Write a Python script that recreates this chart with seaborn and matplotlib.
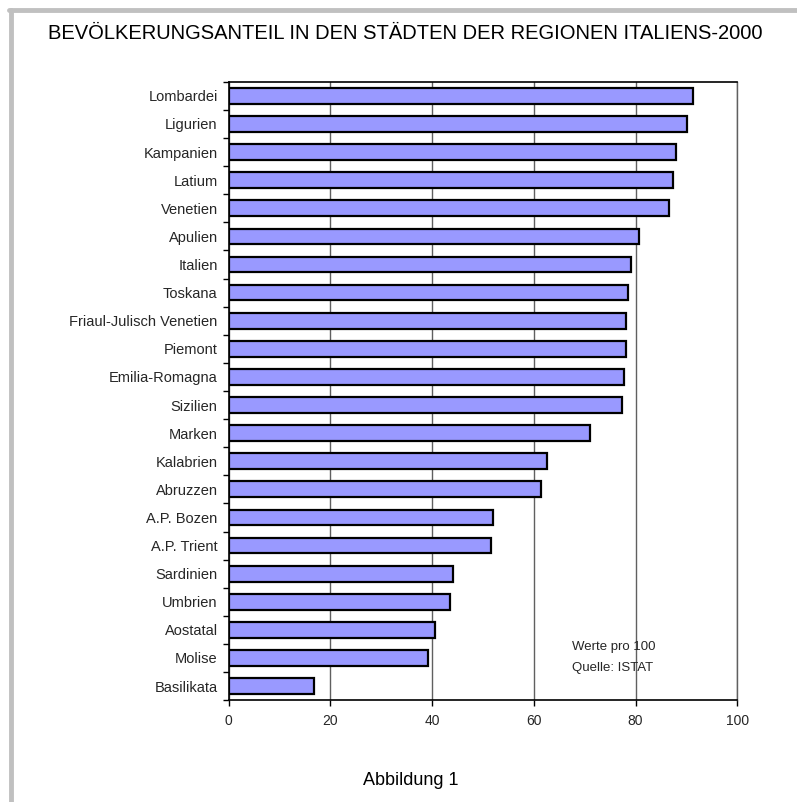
import matplotlib
matplotlib.use("Agg")
import matplotlib.pyplot as plt
from matplotlib.lines import Line2D
from matplotlib.ticker import FixedLocator
import seaborn as sns
import pandas as pd
import numpy as np

regionen = ["Lombardei", "Ligurien", "Kampanien", "Latium", "Venetien", "Apulien",
            "Italien", "Toskana", "Friaul-Julisch Venetien", "Piemont", "Emilia-Romagna",
            "Sizilien", "Marken", "Kalabrien", "Abruzzen", "A.P. Bozen", "A.P. Trient",
            "Sardinien", "Umbrien", "Aostatal", "Molise", "Basilikata"]
werte = [91.4, 90.2, 88.0, 87.3, 86.5, 80.7, 79.2, 78.5, 78.1, 78.1, 77.8,
         77.4, 71.1, 62.6, 61.5, 52.0, 51.6, 44.2, 43.5, 40.5, 39.2, 16.7]
xticks = [0, 20, 40, 60, 80, 100]

df = pd.DataFrame({"Region": regionen, "Wert": werte})

sns.set_style("white")
plt.rcParams['font.family'] = ['Liberation Sans', 'DejaVu Sans']

fig = plt.figure(figsize=(7.97, 8.02), dpi=100)
ax = fig.add_axes([0.287, 0.127, 0.638, 0.771])

sns.barplot(x="Wert", y="Region", data=df, orient="h", color="#9999ff",
            edgecolor="black", linewidth=1.6, width=0.56, saturation=1, ax=ax, zorder=3)

ax.set_xlim(0, 100)
ax.set_ylim(len(regionen) - 0.5, -0.5)
ax.set_xticks(xticks)
ax.set_xticklabels([str(t) for t in xticks], fontsize=10)
ax.set_xlabel("")
ax.set_ylabel("")
ax.tick_params(axis="y", which="major", length=0, labelsize=10.5, pad=8)
ax.yaxis.set_minor_locator(FixedLocator(np.arange(-0.5, len(regionen), 1.0)))
ax.tick_params(axis="y", which="minor", length=4, width=1, color="black", left=True)
ax.tick_params(axis="x", which="major", length=4, width=1, color="black", bottom=True, pad=6)

ax.grid(axis="x", color="#606060", linewidth=1, zorder=0)
ax.set_axisbelow(True)
for s in ["left", "top", "bottom"]:
    ax.spines[s].set_color("black")
    ax.spines[s].set_linewidth(1.2)
ax.spines["right"].set_color("#606060")
ax.spines["right"].set_linewidth(1)

ax.text(67.5, 19.6, "Werte pro 100", fontsize=9.5, va="center")
ax.text(67.5, 20.35, "Quelle: ISTAT", fontsize=9.5, va="center")

fig.text(0.508, 0.958, "BEVÖLKERUNGSANTEIL IN DEN STÄDTEN DER REGIONEN ITALIENS-2000",
         ha="center", va="center", fontsize=14.5, color="black")
fig.text(0.515, 0.027, "Abbildung 1", ha="center", va="center", fontsize=13, color="black")

# grauer Rahmen links und oben
fig.add_artist(Line2D([0.0132, 0.0132], [0.0, 0.9875], color="#c0c0c0", linewidth=3.5,
                      transform=fig.transFigure))
fig.add_artist(Line2D([0.011, 1.0], [0.9875, 0.9875], color="#c0c0c0", linewidth=3.5,
                      transform=fig.transFigure))

plt.savefig("out.png", dpi=100)
